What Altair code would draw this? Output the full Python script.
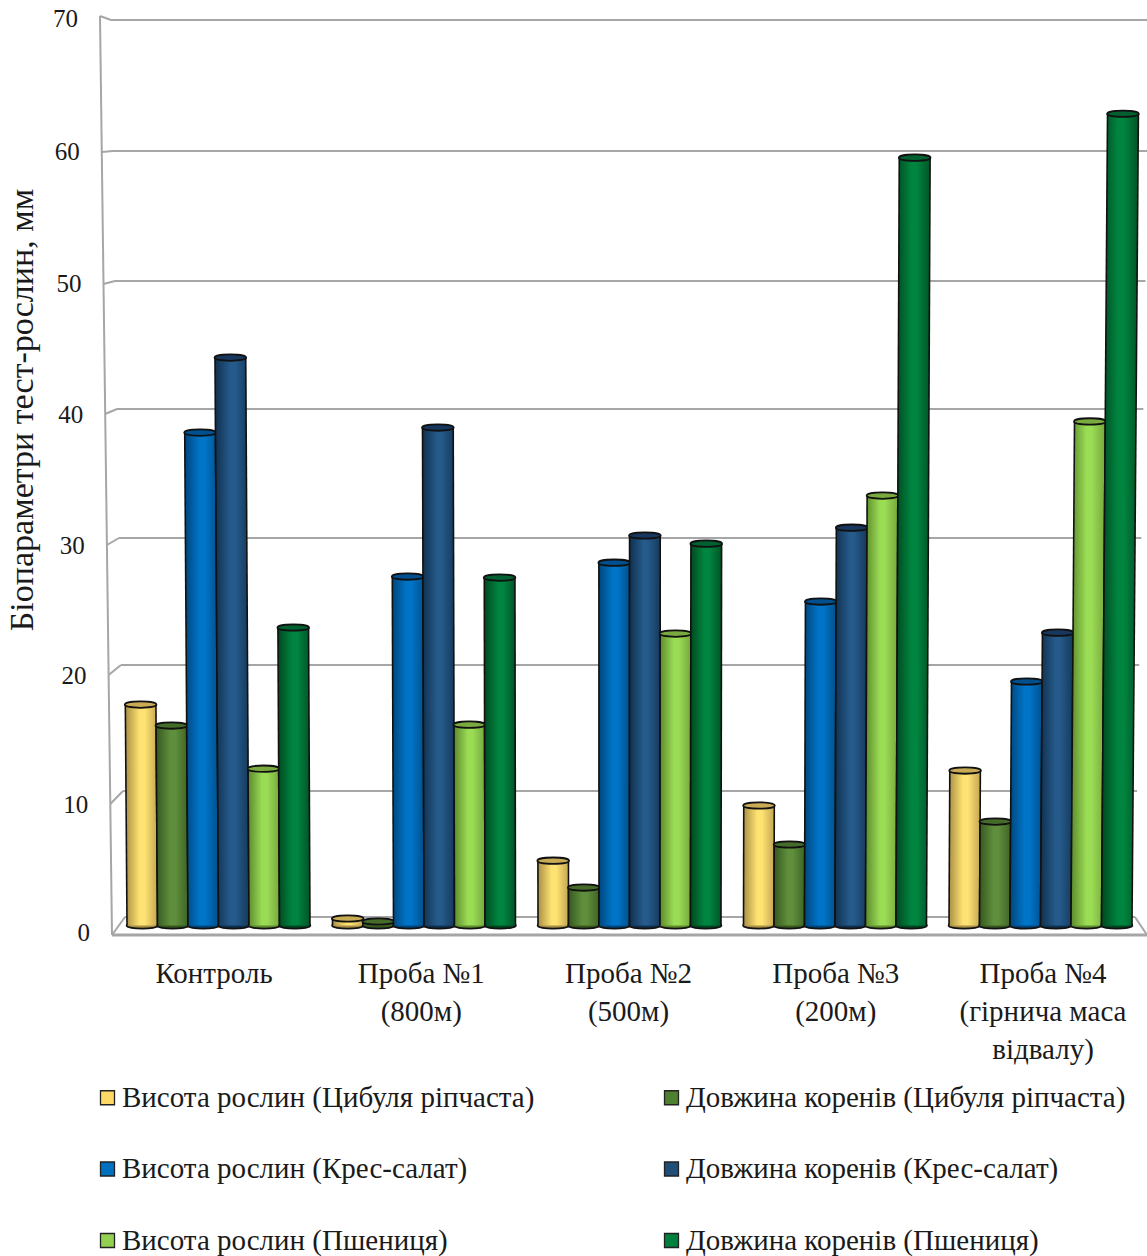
import altair as alt
import pandas as pd

# Measurements per sample, mm
SAMPLES = ["Контроль", "Проба №1\n(800м)", "Проба №2\n(500м)", "Проба №3\n(200м)",
           "Проба №4\n(гірнича маса\nвідвалу)"]
SERIES = ["Висота рослин (Цибуля ріпчаста)", "Довжина коренів (Цибуля ріпчаста)",
          "Висота рослин (Крес-салат)", "Довжина коренів (Крес-салат)",
          "Висота рослин (Пшениця)", "Довжина коренів (Пшениця)"]
ONION_HEIGHT = [17.05, 0.54, 5.0, 9.26, 11.96]
ONION_ROOT = [15.43, 0.31, 2.93, 6.25, 8.02]
CRESS_HEIGHT = [38.04, 26.93, 28.0, 25.0, 18.83]
CRESS_ROOT = [43.83, 38.43, 30.1, 30.7, 22.6]
WHEAT_HEIGHT = [12.1, 15.5, 22.53, 33.18, 38.9]
WHEAT_ROOT = [23.0, 26.85, 29.47, 59.26, 62.65]
VALUES = [ONION_HEIGHT, ONION_ROOT, CRESS_HEIGHT, CRESS_ROOT, WHEAT_HEIGHT, WHEAT_ROOT]
TICKS = [0, 10, 20, 30, 40, 50, 60, 70]

LEGEND_COLORS = ["#ffd966", "#4f7f30", "#0070c0", "#1f4e79", "#92d050", "#00803c"]
# Shading of each cylinder: left edge, highlight, right edge, lid
SHADES = [("#a98f45", "#ffe372", "#c4a653", "#c9ab55"),
          ("#36571f", "#5f8f3c", "#3f6425", "#456b2a"),
          ("#00467c", "#0075c8", "#00508c", "#00508f"),
          ("#10304f", "#255a8a", "#153a5c", "#17375e"),
          ("#5c8a2c", "#9bdc55", "#76a83c", "#7aa93f"),
          ("#00481f", "#008540", "#005427", "#00602f")]

FONT = "Liberation Serif"
INK = "#1a1a1a"
GRID = "#a6a6a6"
W, H = 1147, 1256

# Scales: the bars stand on a plane between the back wall and the front edge
WALL_RANGE = [917, 791, 665, 538, 409, 281, 151, 20]
bar_y = alt.Scale(domain=[0, 70], range=[925.5, 18.5])
wall_y = alt.Scale(domain=TICKS, range=WALL_RANGE)
front_y = alt.Scale(domain=TICKS, range=[935, 804, 675, 545, 414, 284, 152, 16])
label_y = alt.Scale(domain=TICKS, range=[933, 805, 676, 546, 415, 284, 152, 19])
bar_x = alt.Scale(domain=[0, 4], range=[218.5, 1040.5])
sample_x = alt.Scale(domain=[0, 4], range=[214, 1043])
page_x = alt.Scale(domain=[0, W], range=[0, W])

BAR_STEP, HALF = 0.1484, 0.0742
VANISH, LEAN = 1.954, 2e-4


def leaned(u, v):
    # Perspective: bars lean outward a little with height
    return VANISH + (u - VANISH) * (1 + LEAN * v)


def ellipse(ry):
    return f"M-1,0C-1,{-ry},1,{-ry},1,0C1,{ry},-1,{ry},-1,0Z"


def gradient(shade):
    return alt.Gradient(gradient="linear", x1=0, x2=1, y1=0, y2=0, stops=[
        alt.GradientStop(color=shade[0], offset=0),
        alt.GradientStop(color=shade[1], offset=0.45),
        alt.GradientStop(color=shade[1], offset=0.6),
        alt.GradientStop(color=shade[2], offset=1)])


def wall_left(v):
    return 111 + (70 - v) * 0.2


def edge_left(v):
    return 100 + (70 - v) * 12 / 70


layers = []

# Tiny marks behind the first cylinder that carry the legend
legend_df = pd.DataFrame({"series": SERIES, "x": [140] * 6, "v": [0] * 6})
layers.append(
    alt.Chart(legend_df).mark_square(size=1, opacity=1).encode(
        x=alt.X("x:Q", scale=page_x, axis=None),
        y=alt.Y("v:Q", scale=bar_y, axis=None),
        color=alt.Color("series:N",
                        scale=alt.Scale(domain=SERIES, range=LEGEND_COLORS),
                        legend=alt.Legend(orient="none", legendX=93, legendY=1083, columns=2,
                                          direction="horizontal", title=None, symbolType="square",
                                          symbolSize=196, symbolStrokeColor="#222222",
                                          symbolStrokeWidth=1.3, labelFont=FONT, labelFontSize=29,
                                          labelColor=INK, labelLimit=700, labelOffset=0,
                                          rowPadding=41.5, columnPadding=122, gridAlign="each",
                                          padding=0)),
    ))

# Back wall grid lines
grid_df = pd.DataFrame({"v": TICKS})
grid_df["left"] = [wall_left(v) for v in TICKS]
grid_df["right"] = [min(W, 1135 + v * 0.21) for v in TICKS]
layers.append(
    alt.Chart(grid_df).mark_rule(color=GRID, strokeWidth=2).encode(
        x=alt.X("left:Q", scale=page_x, axis=None),
        x2="right:Q",
        y=alt.Y("v:Q", scale=wall_y, axis=None),
    ))

# Short diagonals from the left edge to the wall
for v, wall_px in zip(TICKS, WALL_RANGE):
    stub_df = pd.DataFrame({"x": [edge_left(v)], "x2": [wall_left(v)], "v": [v]})
    layers.append(
        alt.Chart(stub_df).mark_rule(color=GRID, strokeWidth=2).encode(
            x=alt.X("x:Q", scale=page_x, axis=None),
            x2="x2:Q",
            y=alt.Y("v:Q", scale=front_y, axis=None),
            y2=alt.value(wall_px),
        ))

# Left edge of the frame
edge_df = pd.DataFrame({"x": [100, 112], "v": [70, 0]})
layers.append(
    alt.Chart(edge_df).mark_line(color=GRID, strokeWidth=2).encode(
        x=alt.X("x:Q", scale=page_x, axis=None),
        y=alt.Y("v:Q", scale=front_y, axis=None),
    ))

# Floor: front line and the right diagonal
floor_df = pd.DataFrame({"x": [112, W], "v": [0, 0]})
layers.append(
    alt.Chart(floor_df).mark_line(color=GRID, strokeWidth=3).encode(
        x=alt.X("x:Q", scale=page_x, axis=None),
        y=alt.Y("v:Q", scale=front_y, axis=None),
    ))
layers.append(
    alt.Chart(pd.DataFrame({"x": [1135], "x2": [W], "v": [0]})).mark_rule(
        color=GRID, strokeWidth=2).encode(
        x=alt.X("x:Q", scale=page_x, axis=None),
        x2="x2:Q",
        y=alt.Y("v:Q", scale=wall_y, axis=None),
        y2=alt.value(935),
    ))

# Cylinders, one series after another
for j, (vals, shade) in enumerate(zip(VALUES, SHADES)):
    body, sides, tops, bottoms = [], [], [], []
    for i, v in enumerate(vals):
        u = i + (j - 2.5) * BAR_STEP
        for lv in (0, v):
            body.append({"g": i, "v": lv,
                         "l": leaned(u - HALF, lv), "r": leaned(u + HALF, lv)})
            sides.append({"g": i, "side": "l", "v": lv, "x": leaned(u - HALF, lv)})
            sides.append({"g": i, "side": "r", "v": lv, "x": leaned(u + HALF, lv)})
        tops.append({"v": v, "x": leaned(u, v)})
        bottoms.append({"v": 0, "x": leaned(u, 0)})
    X = lambda f: alt.X(f, scale=bar_x, axis=None)
    Y = alt.Y("v:Q", scale=bar_y, axis=None)
    layers.append(
        alt.Chart(pd.DataFrame(bottoms)).mark_point(
            shape=ellipse(0.26), size=980, filled=True, opacity=1, fill=shade[0],
            stroke="#111111", strokeWidth=1.8).encode(x=X("x:Q"), y=Y))
    layers.append(
        alt.Chart(pd.DataFrame(body)).mark_area(orient="horizontal", color=gradient(shade)).encode(
            x=alt.X("l:Q", scale=bar_x, axis=None, stack=None), x2="r:Q", y=Y, detail="g:N"))
    layers.append(
        alt.Chart(pd.DataFrame(sides)).mark_line(color="#111111", strokeWidth=1.6).encode(
            x=X("x:Q"), y=Y, detail=["g:N", "side:N"], order="v:Q"))
    layers.append(
        alt.Chart(pd.DataFrame(tops)).mark_point(
            shape=ellipse(0.27), size=1000, filled=True, opacity=1, fill=shade[3],
            stroke="#111111", strokeWidth=1.8).encode(x=X("x:Q"), y=Y))

# Value labels along the leaning left edge
tick_df = pd.DataFrame({"v": TICKS, "x": [90 - v * 12 / 70 for v in TICKS]})
layers.append(
    alt.Chart(tick_df).mark_text(font=FONT, fontSize=25, color=INK, align="right",
                                 baseline="middle").encode(
        x=alt.X("x:Q", scale=page_x, axis=None),
        y=alt.Y("v:Q", scale=label_y, axis=None),
        text="v:Q",
    ))

# Sample names below the floor
sample_df = pd.DataFrame({"i": range(5), "name": SAMPLES})
layers.append(
    alt.Chart(sample_df).mark_text(font=FONT, fontSize=29, color=INK, align="center",
                                   baseline="top", lineBreak="\n", lineHeight=38).encode(
        x=alt.X("i:Q", scale=sample_x, axis=None),
        y=alt.value(960),
        text="name:N",
    ))

# Vertical axis title
layers.append(
    alt.Chart(pd.DataFrame({"t": ["Біопараметри  тест-рослин, мм"]})).mark_text(
        font=FONT, fontSize=34, color=INK, angle=270, align="center", baseline="middle").encode(
        x=alt.value(23), y=alt.value(410), text="t:N"))

chart = alt.layer(*layers).resolve_scale(x="independent", y="independent", color="independent").properties(
    width=W, height=H, padding=0, autosize=alt.AutoSizeParams(type="none"),
    background="white",
).configure_view(stroke=None)

chart.save("out.html", embed_options={"renderer": "svg", "actions": False})
